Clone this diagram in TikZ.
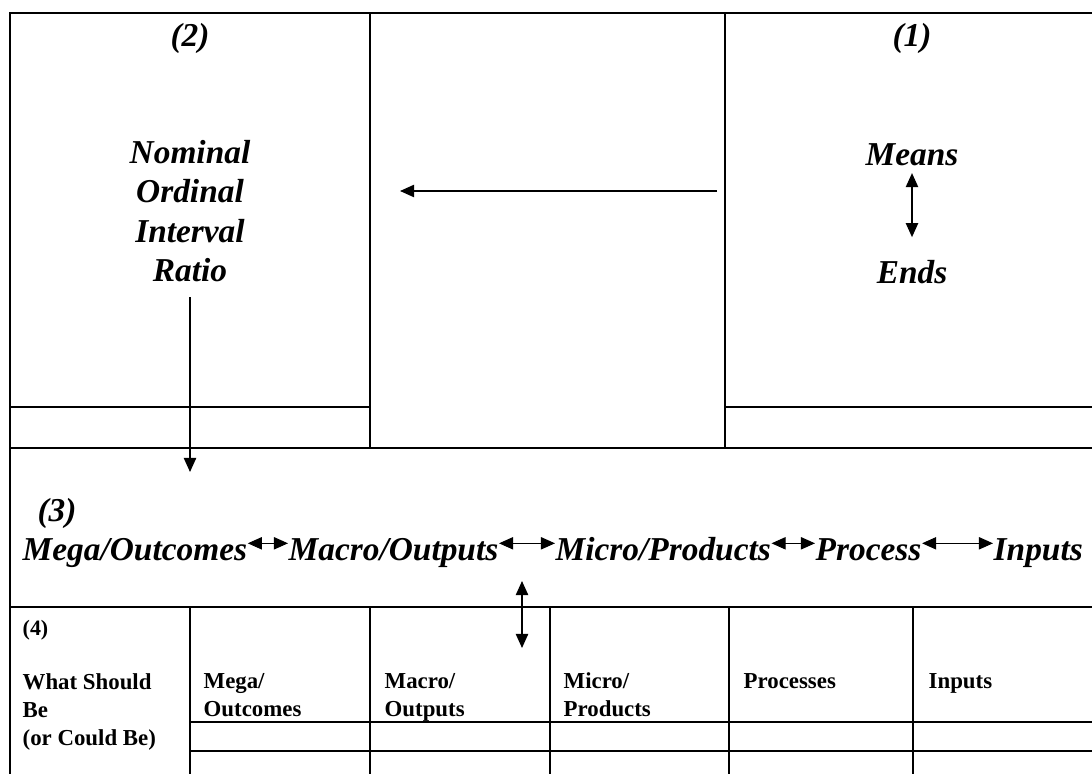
\documentclass[tikz,border=0pt]{standalone}
\usepackage{fontspec}
\setmainfont{Liberation Serif}
\usetikzlibrary{arrows.meta}
\begin{document}
\begin{tikzpicture}[>={Triangle[length=8pt,width=7pt]},x=0.02cm,y=-0.02cm,line width=0.8pt,
        big/.style={font=\fontsize{19}{22.4}\selectfont\bfseries\itshape,inner sep=0pt},
        cell/.style={font=\fontsize{13}{16}\selectfont\bfseries,inner sep=0pt,anchor=north west,align=left}]
        \useasboundingbox (0,0) rectangle (1092,774);
        \draw (1092,13)--(10,13)--(10,774);
        \draw (370,13)--(370,448) (725,13)--(725,448);
        \draw (10,407)--(370,407) (725,407)--(1092,407);
        \draw (10,448)--(1092,448) (10,607)--(1092,607);
        \foreach \x in {190,370,550,729,913} \draw (\x,607)--(\x,774);
        \foreach \y in {722,751} \draw (190,\y)--(1092,\y);
        \node[big] (two) at (190,38) {(2)};
        \node[big] (one) at (912,38) {(1)};
        \node[big,align=center] (scales) at (190,211) {Nominal\\Ordinal\\Interval\\Ratio};
        \node[big,anchor=base] (means) at (912,165) {Means};
        \node[big,anchor=base] (ends) at (912,283) {Ends};
        \draw[<->,shorten <=4pt,shorten >=12.5pt] (means)--(ends);
        \coordinate (from) at (717,191); \coordinate (to) at (400,191);
        \draw[->] (from)--(to);
        \coordinate (down) at (190,472);
        \draw[->,shorten <=8.5pt] (scales.south)--(down);
        \node[big] (three) at (57,513) {(3)};
        \node[big,anchor=base west] (mega) at (22,560) {Mega/Outcomes};
        \node[big,anchor=base west] (macro) at (288,560) {Macro/Outputs};
        \node[big,anchor=base west] (micro) at (555,560) {Micro/Products};
        \node[big,anchor=base west] (process) at (815,560) {Process};
        \node[big,anchor=base west] (inputs) at (993,560) {Inputs};
        \foreach \a/\b in {mega/macro,macro/micro,micro/process,process/inputs}
            \draw[<->,line width=0.6pt] ([yshift=9.5pt]\a.base east)--([yshift=9.5pt]\b.base west);
        \coordinate (up) at (522,581); \coordinate (dn) at (522,648);
        \draw[<->] (up)--(dn);
        \node[cell,font=\fontsize{12.5}{14}\selectfont\bfseries] (four) at (22,620) {(4)};
        \node[cell] (should) at (22,673) {What Should\\Be\\(or Could Be)};
        \node[cell] (megacol) at (203,673) {Mega/\\Outcomes};
        \node[cell] (macrocol) at (384,673) {Macro/\\Outputs};
        \node[cell] (microcol) at (563,672) {Micro/\\Products};
        \node[cell] (proccol) at (743,673) {Processes};
        \node[cell] (inputcol) at (928,673) {Inputs};
    \end{tikzpicture}
\end{document}
